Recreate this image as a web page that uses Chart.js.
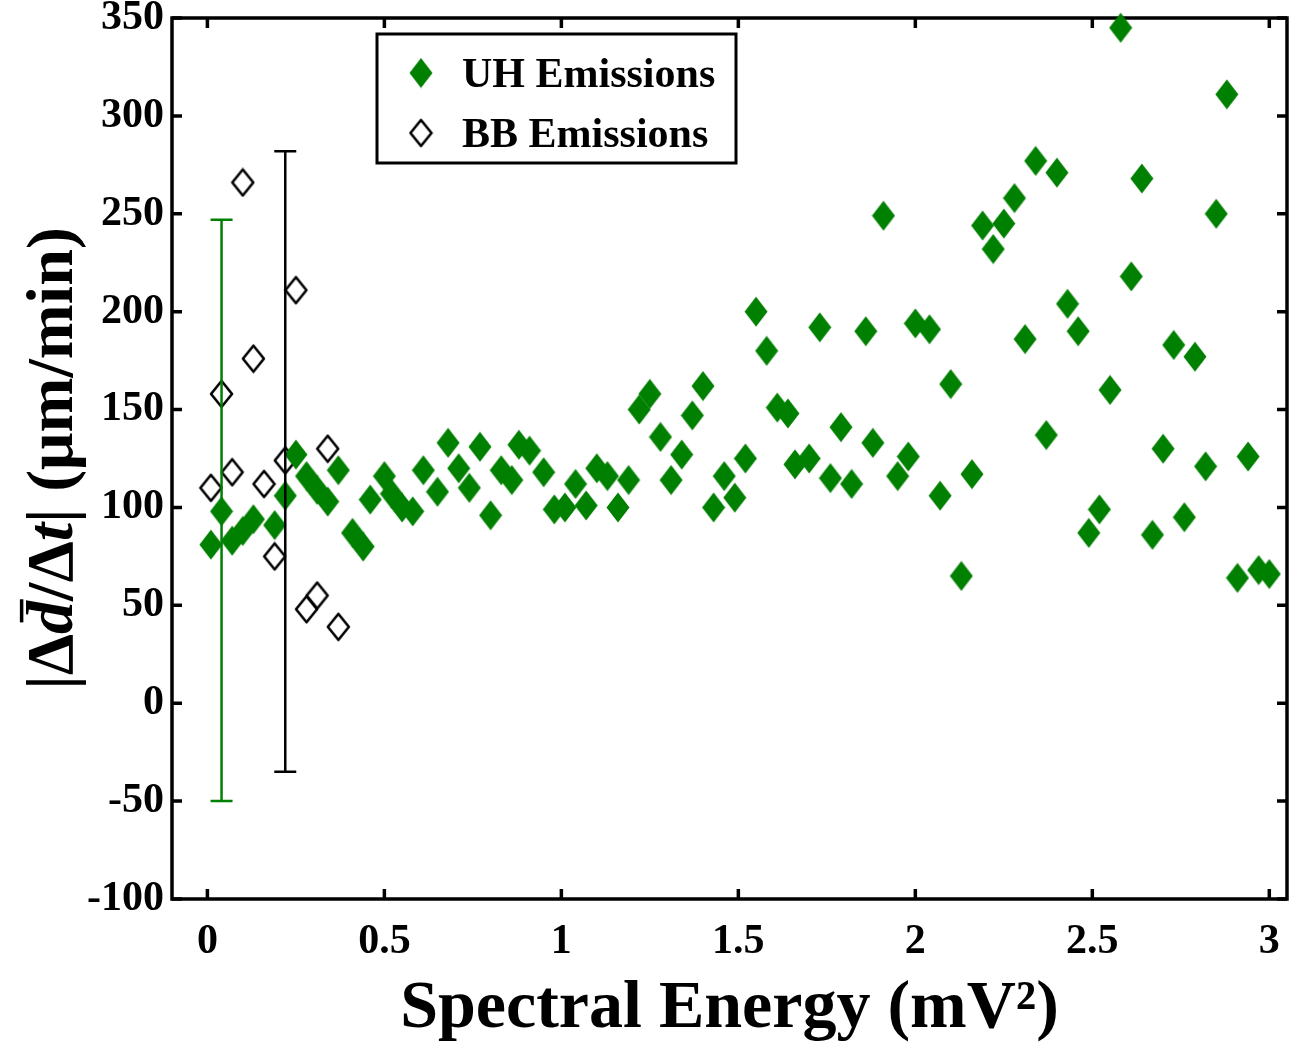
<!DOCTYPE html>
<html>
<head>
<meta charset="utf-8">
<script src="https://cdn.jsdelivr.net/npm/chart.js@4.4.1/dist/chart.umd.min.js"></script>
<style>
  html, body { margin: 0; padding: 0; background: #fff; }
</style>
</head>
<body>
<canvas id="chart" width="1298" height="1047"></canvas>
<script>
// UH emissions (filled green diamonds)
const uhX = [0.01, 0.04, 0.07, 0.10, 0.13, 0.19, 0.22, 0.25, 0.28, 0.31,
             0.34, 0.37, 0.41, 0.44, 0.46, 0.50, 0.52, 0.55, 0.58, 0.61,
             0.65, 0.68, 0.71, 0.74, 0.77, 0.80, 0.83, 0.86, 0.88, 0.91,
             0.95, 0.98, 1.01, 1.04, 1.07, 1.10, 1.13, 1.16, 1.19, 1.22,
             1.25, 1.28, 1.31, 1.34, 1.37, 1.40, 1.43, 1.46, 1.49, 1.52,
             1.55, 1.58, 1.61, 1.64, 1.66, 1.70, 1.73, 1.76, 1.79, 1.82,
             1.86, 1.88, 1.91, 1.95, 1.98, 2.00, 2.04, 2.07, 2.10, 2.13,
             2.16, 2.19, 2.22, 2.25, 2.28, 2.31, 2.34, 2.37, 2.40, 2.43,
             2.46, 2.49, 2.52, 2.55, 2.58, 2.61, 2.64, 2.67, 2.70, 2.73,
             2.76, 2.79, 2.82, 2.85, 2.88, 2.91, 2.94, 2.97, 3.00];
const uhY = [81, 98, 83, 88, 94, 91, 106, 127, 116, 109,
             103, 119, 87, 80, 104, 116, 107, 100, 98, 119,
             108, 133, 120, 110, 131, 96, 119, 114, 132, 129,
             118, 99, 100, 112, 101, 120, 116, 100, 114, 150,
             158, 136, 114, 127, 147, 162, 100, 116, 105, 125,
             200, 180, 151, 148, 122, 125, 192, 115, 141, 112,
             190, 133, 249, 116, 126, 194, 191, 106, 163, 65,
             117, 244, 232, 245, 258, 186, 277, 137, 271, 204,
             190, 87, 99, 160, 345, 218, 268, 86, 130, 183,
             95, 177, 121, 250, 311, 64, 126, 68, 66];

// BB emissions (open diamonds)
const bbX = [0.01, 0.04, 0.07, 0.10, 0.13, 0.16, 0.19, 0.22, 0.25, 0.28, 0.31, 0.34, 0.37];
const bbY = [110, 158, 118, 266, 176, 112, 75, 124, 211, 48, 55, 130, 39];

// error bars
const errX = [0.04, 0.22];
const errLow = [-50, -35];
const errHigh = [247, 282];
const errColors = ['#008000', '#000000'];

// axis ticks
const xTicks = [0, 0.5, 1, 1.5, 2, 2.5, 3];
const xTickLabels = ['0', '0.5', '1', '1.5', '2', '2.5', '3'];
const yTicks = [-100, -50, 0, 50, 100, 150, 200, 250, 300, 350];
const yTickLabels = ['-100', '-50', '0', '50', '100', '150', '200', '250', '300', '350'];

const seriesNames = ['UH Emissions', 'BB Emissions'];
const GREEN = '#008000';
const FONT = '"Liberation Serif", "Times New Roman", serif';

function diamond(w, h, fill, stroke) {
  const c = document.createElement('canvas');
  c.width = w; c.height = h;
  const g = c.getContext('2d');
  const p = stroke ? 2 : 0.5;
  g.beginPath();
  g.moveTo(w / 2, p);
  g.lineTo(w - p, h / 2);
  g.lineTo(w / 2, h - p);
  g.lineTo(p, h / 2);
  g.closePath();
  g.lineJoin = 'round';
  if (fill) { g.fillStyle = fill; g.fill(); }
  if (stroke) { g.strokeStyle = stroke; g.lineWidth = 2.6; g.stroke(); }
  return c;
}
const uhMarker = diamond(24, 31, GREEN, null);
const bbMarker = diamond(25, 30, null, '#000');

const toPoints = (xs, ys) => xs.map((v, i) => ({ x: v, y: ys[i] }));

const framePlugin = {
  id: 'frame',
  beforeDatasetsDraw(chart) {
    const { ctx, chartArea: a, scales: { x, y } } = chart;
    ctx.save();
    ctx.strokeStyle = '#000';
    ctx.lineWidth = 3.5;
    ctx.strokeRect(a.left, a.top, a.right - a.left, a.bottom - a.top);
    ctx.beginPath();
    x.ticks.forEach(t => {
      const p = x.getPixelForValue(t.value);
      ctx.moveTo(p, a.bottom); ctx.lineTo(p, a.bottom - 10);
      ctx.moveTo(p, a.top); ctx.lineTo(p, a.top + 10);
    });
    y.ticks.forEach(t => {
      const p = y.getPixelForValue(t.value);
      ctx.moveTo(a.left, p); ctx.lineTo(a.left + 10, p);
      ctx.moveTo(a.right, p); ctx.lineTo(a.right - 10, p);
    });
    ctx.stroke();
    ctx.restore();
  },
  afterDatasetsDraw(chart) {
    const { ctx, chartArea: a, scales: { x, y } } = chart;
    ctx.save();
    // error bars
    errX.forEach((v, i) => {
      const px = x.getPixelForValue(v);
      const top = y.getPixelForValue(errHigh[i]);
      const bot = y.getPixelForValue(errLow[i]);
      ctx.strokeStyle = errColors[i];
      ctx.lineWidth = 2.5;
      ctx.beginPath();
      ctx.moveTo(px, top); ctx.lineTo(px, bot);
      ctx.moveTo(px - 11, top); ctx.lineTo(px + 11, top);
      ctx.moveTo(px - 11, bot); ctx.lineTo(px + 11, bot);
      ctx.stroke();
    });
    // legend box
    const lx = a.left + 205, ly = a.top + 16, lw = 359, lh = 129;
    ctx.fillStyle = '#fff';
    ctx.fillRect(lx, ly, lw, lh);
    ctx.strokeStyle = '#000';
    ctx.lineWidth = 3;
    ctx.strokeRect(lx, ly, lw, lh);
    const markers = [uhMarker, bbMarker];
    ctx.font = 'bold 42px ' + FONT;
    ctx.fillStyle = '#000';
    ctx.textBaseline = 'middle';
    seriesNames.forEach((name, i) => {
      const cy = ly + 39 + i * 60;
      const m = markers[i];
      ctx.drawImage(m, lx + 44 - m.width / 2, cy - m.height / 2);
      ctx.fillText(name, lx + 85, cy + 3);
    });
    ctx.restore();
  },
  afterDraw(chart) {
    // y axis title with italic d-bar and t
    const { ctx, chartArea: a } = chart;
    const parts = [['|Δ', false], ['d', true], ['/Δ', false], ['t', true], ['| (μm/min)', false]];
    const size = 66;
    const cx = 50, cy = (a.top + a.bottom) / 2;
    ctx.save();
    ctx.translate(cx, cy);
    ctx.rotate(-Math.PI / 2);
    ctx.fillStyle = '#000';
    ctx.strokeStyle = '#000';
    ctx.textBaseline = 'alphabetic';
    const fontOf = it => (it ? 'italic ' : '') + 'bold ' + size + 'px ' + FONT;
    let total = 0;
    parts.forEach(p => { ctx.font = fontOf(p[1]); total += ctx.measureText(p[0]).width; });
    let xx = -total / 2;
    const base = size * 0.33;
    parts.forEach(p => {
      ctx.font = fontOf(p[1]);
      const w = ctx.measureText(p[0]).width;
      ctx.fillText(p[0], xx, base);
      if (p[0] === 'd') {
        ctx.lineWidth = 3.5;
        ctx.beginPath();
        ctx.moveTo(xx + w * 0.35, base - size * 0.76);
        ctx.lineTo(xx + w * 1.05, base - size * 0.76);
        ctx.stroke();
      }
      xx += w;
    });
    ctx.restore();
  }
};

const ctx = document.getElementById('chart').getContext('2d');

new Chart(ctx, {
  type: 'scatter',
  data: {
    datasets: [{
      label: seriesNames[0],
      data: toPoints(uhX, uhY),
      pointStyle: uhMarker,
      backgroundColor: GREEN,
      borderColor: GREEN,
      clip: false,
    }, {
      label: seriesNames[1],
      data: toPoints(bbX, bbY),
      pointStyle: bbMarker,
      backgroundColor: 'rgba(0,0,0,0)',
      borderColor: '#000',
      clip: false,
    }]
  },
  options: {
    responsive: false,
    animation: false,
    events: [],
    layout: { padding: { top: 18, right: 11, left: 0, bottom: 0 } },
    plugins: {
      legend: { display: false },
      tooltip: { enabled: false },
    },
    scales: {
      x: {
        type: 'linear',
        min: -0.1,
        max: 3.05,
        afterBuildTicks: s => { s.ticks = xTicks.map(v => ({ value: v })); },
        afterFit: s => { s.height = 148; s.paddingLeft = 0; s.paddingRight = 0; },
        grid: { display: false, drawTicks: false },
        border: { display: false },
        ticks: {
          padding: 18,
          color: '#000',
          font: { family: FONT, size: 42, weight: 'bold' },
          callback: v => xTickLabels[xTicks.indexOf(v)],
        },
        title: {
          display: true,
          text: 'Spectral Energy (mV²)',
          color: '#000',
          font: { family: FONT, size: 68, weight: 'bold', lineHeight: 1.1 },
          padding: { top: 0, bottom: 0 },
        },
      },
      y: {
        type: 'linear',
        min: -100,
        max: 350,
        afterBuildTicks: s => { s.ticks = yTicks.map(v => ({ value: v })); },
        afterFit: s => { s.width = 172; s.paddingTop = 0; s.paddingBottom = 0; },
        grid: { display: false, drawTicks: false },
        border: { display: false },
        ticks: {
          padding: 8,
          color: '#000',
          font: { family: FONT, size: 42, weight: 'bold' },
          callback: v => yTickLabels[yTicks.indexOf(v)],
        },
      },
    },
  },
  plugins: [framePlugin],
});
</script>
</body>
</html>
